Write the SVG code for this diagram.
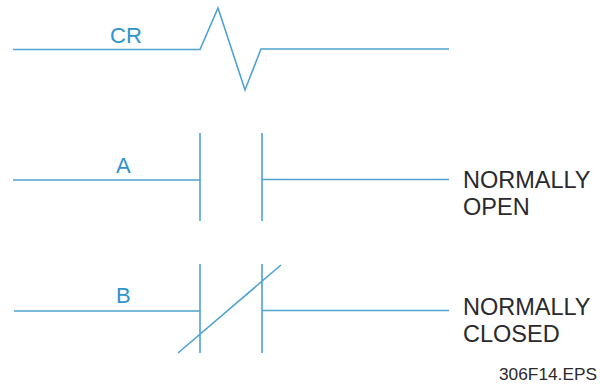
<svg xmlns="http://www.w3.org/2000/svg" width="600" height="387" viewBox="0 0 600 387">
<style>
.w{fill:none;stroke:#4fa3d1;stroke-width:1.6;stroke-linejoin:miter}
.l{font-family:"Liberation Sans",Arial,sans-serif;font-size:22px;fill:#2f93cf}
.t{font-family:"Liberation Sans",Arial,sans-serif;font-size:23.5px;fill:#2a2a2e}
.f{font-family:"Liberation Sans",Arial,sans-serif;font-size:17.3px;fill:#2a2a2e}
</style>
<rect width="600" height="387" fill="#fff"/>
<g id="connectors">
<path class="w" d="M13 49.500H200L218 8L245 90L261 49H449"/>
<path class="w" d="M13 180H200M262 179.500H449"/>
<path class="w" d="M14 311H200M262 310.500H449"/>
</g>
<g id="coil-CR"><text class="l" x="110" y="43">CR</text></g>
<g id="contact-A">
<path class="w" d="M200 133V221M262 133V221"/>
<text class="l" x="116" y="173">A</text>
</g>
<g id="contact-B">
<path class="w" d="M200 264V353M262 264V353M178 353L281 265"/>
<text class="l" x="116" y="303">B</text>
</g>
<g id="label-open"><text class="t" x="463" y="188">NORMALLY</text><text class="t" x="463" y="215">OPEN</text></g>
<g id="label-closed"><text class="t" x="463" y="315">NORMALLY</text><text class="t" x="463" y="342">CLOSED</text></g>
<g id="figure-id"><text class="f" x="499" y="380">306F14.EPS</text></g>
</svg>
